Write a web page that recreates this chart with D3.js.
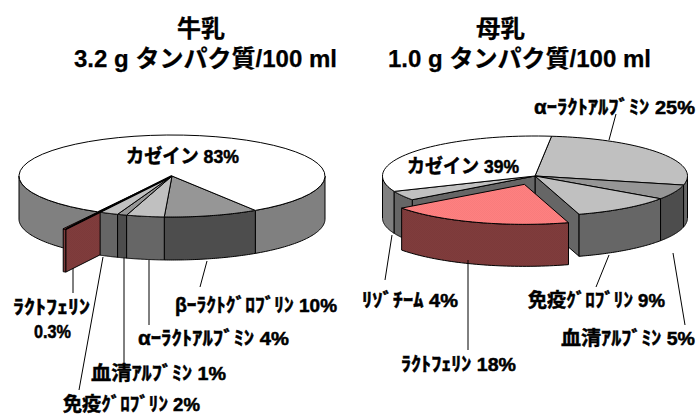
<!DOCTYPE html>
<html lang="ja">
<head>
<meta charset="utf-8">
<script src="https://cdn.jsdelivr.net/npm/d3@7"></script>
<style>
html,body{margin:0;padding:0;background:#fff}
svg{display:block}
text{font-family:"Liberation Sans","Noto Sans CJK JP",sans-serif;font-weight:bold;fill:#000}
</style>
</head>
<body>
<svg id="chart" width="696" height="414"></svg>
<script>
// 牛乳 (cow's milk) protein fractions, clockwise from the right of the large slice
const cowNames = ["βｰﾗｸﾄｸﾞﾛﾌﾞﾘﾝ", "αｰﾗｸﾄｱﾙﾌﾞﾐﾝ", "血清ｱﾙﾌﾞﾐﾝ", "免疫ｸﾞﾛﾌﾞﾘﾝ", "ﾗｸﾄﾌｪﾘﾝ", "カゼイン"];
const cowValues = [10, 4, 1, 2, 0.3, 83];
const cowTops = ["#969696", "#c0c0c0", "#969696", "#c0c0c0", "#ff8080", "#ffffff"];
const cowWalls = ["#4d4d4d", "#666666", "#4d4d4d", "#666666", "#803c3c", "#808080"];
const cowLifted = [false, false, false, false, true, false];

// 母乳 (human milk) protein fractions
const humanNames = ["αｰﾗｸﾄｱﾙﾌﾞﾐﾝ", "血清ｱﾙﾌﾞﾐﾝ", "免疫ｸﾞﾛﾌﾞﾘﾝ", "ﾗｸﾄﾌｪﾘﾝ", "ﾘｿﾞﾁｰﾑ", "カゼイン"];
const humanValues = [25, 5, 9, 18, 4, 39];
const humanTops = ["#c0c0c0", "#969696", "#c0c0c0", "#ff8080", "#c0c0c0", "#ffffff"];
const humanWalls = ["#666666", "#4d4d4d", "#666666", "#803c3c", "#666666", "#808080"];
const humanLifted = [false, false, false, true, false, false];

const titles = [["牛乳", "3.2 g タンパク質/100 ml"], ["母乳", "1.0 g タンパク質/100 ml"]];

const svg = d3.select("#chart");
const defs = svg.append("defs");

// Fine dither used on the pulled-out slice
function dither(id, color) {
  const p = defs.append("pattern").attr("id", id).attr("width", 2).attr("height", 2)
    .attr("patternUnits", "userSpaceOnUse");
  const shade = d3.color(color).darker(0.08);
  p.append("rect").attr("width", 2).attr("height", 2).attr("fill", color);
  p.append("rect").attr("width", 1).attr("height", 1).attr("fill", shade);
  p.append("rect").attr("x", 1).attr("y", 1).attr("width", 1).attr("height", 1).attr("fill", shade);
}
dither("ditherTop", "#ff8080");
dither("ditherWall", "#803c3c");

// Draws one tilted pie with a cylindrical wall.
// Angles run clockwise from the back of the disc; skew foreshortens the far side.
function drawPie(cfg) {
  const rad = d => d * Math.PI / 180;
  const view = t => t - cfg.skew * Math.sin(t - rad(cfg.skewAt));
  const arcs = d3.pie().sort(null).value(d => d)
    .startAngle(rad(cfg.start)).endAngle(rad(cfg.start + 360))(cfg.values);

  const slices = arcs.map((a, i) => {
    const a0 = view(a.startAngle), a1 = view(a.endAngle);
    const mid = (a0 + a1) / 2;
    const off = cfg.lifted[i] ? cfg.explode : 0;
    return {i, a0, a1, mid, off,
      ox: cfg.cx + cfg.rx * off * Math.sin(mid),
      oy: cfg.cy - cfg.ry * off * Math.cos(mid)};
  });

  const g = svg.append("g");
  const pt = (s, t, dz = 0) => [s.ox + cfg.rx * Math.sin(t), s.oy - cfg.ry * Math.cos(t) + dz];
  const rimPts = (s, from, to, dz) => d3.range(0, 1.0001, 1 / 48).map(k => pt(s, from + (to - from) * k, dz));
  const line = d3.line();
  const fill = (s, base, id) => cfg.lifted[s.i] ? `url(#${id})` : base;

  const topFace = s => g.append("path")
    .attr("d", line([[s.ox, s.oy], ...rimPts(s, s.a0, s.a1, 0)]) + "Z")
    .attr("fill", fill(s, cfg.tops[s.i], "ditherTop"))
    .attr("stroke", "#000").attr("stroke-width", 1).attr("stroke-linejoin", "round");

  // Outer wall, restricted to the part of the slice that faces the viewer
  const wall = s => {
    const n = Math.floor(s.a0 / (2 * Math.PI));
    const from = Math.max(s.a0, rad(90) + n * 2 * Math.PI);
    const to = Math.min(s.a1, rad(270) + n * 2 * Math.PI);
    const spans = [[from, to]];
    const from2 = Math.max(s.a0, rad(450)), to2 = Math.min(s.a1, rad(630));
    spans.push([from2, to2]);
    spans.filter(([p, q]) => q > p).forEach(([p, q]) => {
      g.append("path")
        .attr("d", line([...rimPts(s, p, q, 0), ...rimPts(s, q, p, cfg.depth)]) + "Z")
        .attr("fill", fill(s, cfg.walls[s.i], "ditherWall"))
        .attr("stroke", "#000").attr("stroke-width", 1).attr("stroke-linejoin", "round");
    });
  };

  // Straight cut through the cylinder along one radius
  const cut = (s, t, color) => {
    const rim = pt(s, t);
    g.append("path")
      .attr("d", line([[s.ox, s.oy], rim, [rim[0], rim[1] + cfg.depth], [s.ox, s.oy + cfg.depth]]) + "Z")
      .attr("fill", color).attr("stroke", "#000").attr("stroke-width", 1).attr("stroke-linejoin", "round");
  };

  const faceVisible = (t, side) => side * Math.sin(t) < 0;
  const farness = s => {
    let m = s.mid % (2 * Math.PI);
    if (m < 0) m += 2 * Math.PI;
    return Math.abs(m - Math.PI);
  };
  const painted = slices.slice().sort((a, b) => farness(b) - farness(a));
  const lifted = slices.find(s => s.off > 0);
  const liftedLast = painted[painted.length - 1] === lifted;

  const paintLifted = () => {
    if (faceVisible(lifted.a0, 1)) cut(lifted, lifted.a0, "url(#ditherWall)");
    if (faceVisible(lifted.a1, -1)) cut(lifted, lifted.a1, "url(#ditherWall)");
    wall(lifted);
    topFace(lifted);
  };

  // Faces exposed by the gap the lifted slice leaves behind
  const n = slices.length;
  const before = slices[(lifted.i + n - 1) % n], after = slices[(lifted.i + 1) % n];
  if (liftedLast) {
    if (faceVisible(before.a1, -1)) cut(before, before.a1, cfg.walls[before.i]);
    if (faceVisible(after.a0, 1)) cut(after, after.a0, cfg.walls[after.i]);
  }
  painted.forEach(s => {
    if (s === lifted) { if (!liftedLast) paintLifted(); }
    else wall(s);
  });
  slices.filter(s => s !== lifted).forEach(topFace);
  if (liftedLast) paintLifted();
  else g.append("path")
    .attr("d", line([[cfg.cx, cfg.cy], pt(lifted, lifted.a0)]))
    .attr("stroke", "#000").attr("stroke-width", 2).attr("fill", "none");
}

drawPie({cx: 172, cy: 176, rx: 153, ry: 41, depth: 43, explode: 0.47,
  start: 147, skew: 0, skewAt: 0,
  values: cowValues, tops: cowTops, walls: cowWalls, lifted: cowLifted});

drawPie({cx: 535, cy: 176, rx: 152.5, ry: 40, depth: 42, explode: 0.22,
  start: 17, skew: 0.2, skewAt: 307,
  values: humanValues, tops: humanTops, walls: humanWalls, lifted: humanLifted});

// Titles, with a fitted width for each row
const titleBoxes = [[[177, 225, 37], [74, 337, 67]], [[476, 525, 37], [388, 651, 67]]];
titles.forEach((t, c) => t.forEach((s, r) => {
  const [x0, x1, y] = titleBoxes[c][r];
  svg.append("text").attr("x", x0).attr("y", y).attr("font-size", 24)
    .attr("stroke", "#000").attr("stroke-width", 0.25)
    .attr("textLength", x1 - x0).attr("lengthAdjust", "spacingAndGlyphs").text(s);
}));

// Slice labels, placed by [left, right, baseline]
const labelStyle = sel => sel.attr("stroke", "#000").attr("stroke-width", 0.5)
  .attr("lengthAdjust", "spacingAndGlyphs");
const addLabel = (name, pct, [x0, x1, y]) => {
  const t = svg.append("text").attr("x", x0).attr("y", y).attr("textLength", x1 - x0).call(labelStyle);
  if (name) t.append("tspan").attr("font-size", 19.5).text(name);
  if (name && pct) t.append("tspan").attr("font-size", 19).text(" ");
  if (pct) t.append("tspan").attr("font-size", 19).text(pct);
};
const cowBoxes = [[175, 337, 312], [138, 289, 345], [91, 226, 380], [63, 200, 411], null, [126, 239, 163]];
const humanBoxes = [[534, 695, 114], [561, 695, 345], [528, 665, 307], [401, 516, 371], [362, 458, 307], [407, 519, 173]];
[[cowNames, cowValues, cowBoxes], [humanNames, humanValues, humanBoxes]].forEach(([names, values, boxes]) => {
  names.forEach((name, i) => {
    if (boxes[i]) addLabel(name, `${values[i]}%`, boxes[i]);
  });
});
// The narrow lactoferrin slice has its label on two rows
addLabel(cowNames[4], "", [13, 90, 314]);
addLabel("", `${cowValues[4]}%`, [34, 71, 338]);

// Leader lines from the labels to the pie walls
const leaders = [
  [73, 268, 73, 293], [103, 257, 79, 390], [124, 258, 124, 365], [149, 260, 149, 325], [207, 261, 200, 287],
  [392, 235, 385, 280], [468, 260, 468, 350], [609, 255, 596, 287], [673, 253, 685, 325], [616, 114, 609, 140]
];
svg.append("g").selectAll("line").data(leaders).join("line")
  .attr("x1", d => d[0]).attr("y1", d => d[1]).attr("x2", d => d[2]).attr("y2", d => d[3])
  .attr("stroke", "#000").attr("stroke-width", 1);
</script>
</body>
</html>
